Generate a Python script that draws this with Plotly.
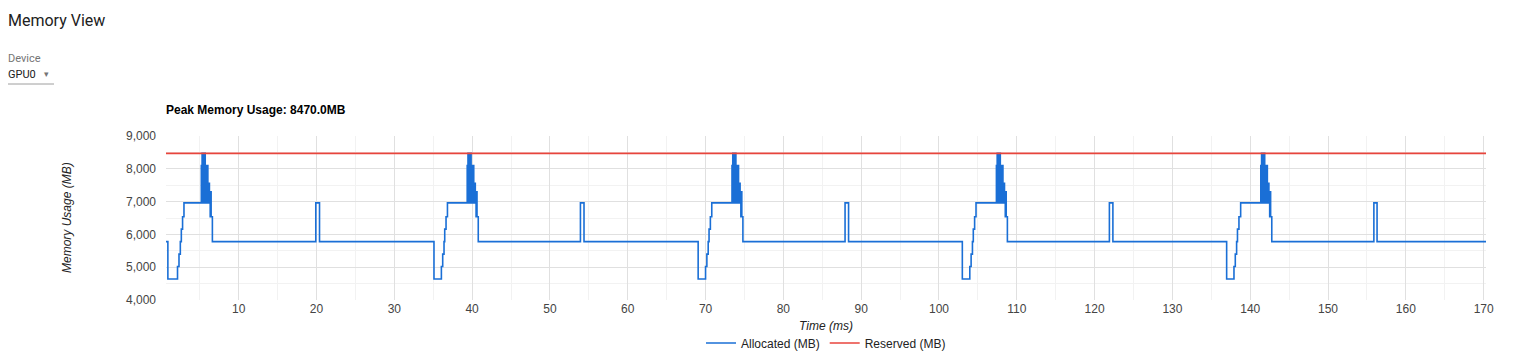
import plotly.graph_objects as go

# ---- data ----
cycle1_time = [0.66, 0.90, 2.14, 2.33, 2.50, 2.63, 2.79, 2.97,
               5.20, 5.26, 5.30, 5.34, 5.38, 5.42, 5.48, 5.52, 5.56, 5.60, 5.66, 5.70, 5.74, 5.78,
               5.83, 5.88, 5.93, 5.98, 6.04, 6.08, 6.14, 6.20, 6.24, 6.28, 6.34, 6.40, 6.46, 6.62,
               19.91, 20.39]
cycle1_mem = [5780, 4640, 5020, 5400, 5780, 6160, 6540, 6960,
              8100, 6960, 8470, 8100, 6960, 8100, 8470, 8100, 6960, 8100, 8470, 8100, 6960, 8100,
              6960, 8100, 6960, 8100, 6960, 7560, 6960, 7560, 6960, 7300, 6540, 7300, 6540, 5780,
              6960, 5780]

cycle2_time = [35.10, 36.05, 36.22, 36.39, 36.48, 36.65, 36.83,
               39.37, 39.43, 39.47, 39.51, 39.55, 39.59, 39.65, 39.69, 39.73, 39.77, 39.83, 39.87, 39.91, 39.95,
               40.00, 40.05, 40.10, 40.15, 40.21, 40.25, 40.31, 40.37, 40.41, 40.45, 40.51, 40.57, 40.63, 40.79,
               53.92, 54.38]
cycle2_mem = [4640, 5020, 5400, 5780, 6160, 6540, 6960,
              8100, 6960, 8470, 8100, 6960, 8100, 8470, 8100, 6960, 8100, 8470, 8100, 6960, 8100,
              6960, 8100, 6960, 8100, 6960, 7560, 6960, 7560, 6960, 7300, 6540, 7300, 6540, 5780,
              6960, 5780]

cycle3_time = [69.05, 70.00, 70.17, 70.34, 70.45, 70.62, 70.80,
               73.40, 73.46, 73.50, 73.54, 73.58, 73.62, 73.68, 73.72, 73.76, 73.80, 73.86, 73.90, 73.94, 73.98,
               74.03, 74.08, 74.13, 74.18, 74.24, 74.28, 74.34, 74.40, 74.44, 74.48, 74.54, 74.60, 74.66, 74.80,
               87.93, 88.38]
cycle3_mem = [4640, 5020, 5400, 5780, 6160, 6540, 6960,
              8100, 6960, 8470, 8100, 6960, 8100, 8470, 8100, 6960, 8100, 8470, 8100, 6960, 8100,
              6960, 8100, 6960, 8100, 6960, 7560, 6960, 7560, 6960, 7300, 6540, 7300, 6540, 5780,
              6960, 5780]

cycle4_time = [103.00, 103.96, 104.13, 104.30, 104.41, 104.58, 104.76,
               107.38, 107.44, 107.48, 107.52, 107.56, 107.60, 107.66, 107.70, 107.74, 107.78, 107.84, 107.88,
               107.92, 107.96, 108.01, 108.06, 108.11, 108.16, 108.22, 108.26, 108.32, 108.38, 108.42, 108.46,
               108.52, 108.58, 108.64, 108.79,
               121.90, 122.35]
cycle4_mem = [4640, 5020, 5400, 5780, 6160, 6540, 6960,
              8100, 6960, 8470, 8100, 6960, 8100, 8470, 8100, 6960, 8100, 8470, 8100,
              6960, 8100, 6960, 8100, 6960, 8100, 6960, 7560, 6960, 7560, 6960, 7300,
              6540, 7300, 6540, 5780,
              6960, 5780]

cycle5_time = [136.97, 137.91, 138.08, 138.25, 138.36, 138.55, 138.77,
               141.36, 141.42, 141.46, 141.50, 141.54, 141.58, 141.64, 141.68, 141.72, 141.76, 141.82, 141.86,
               141.90, 141.94, 141.99, 142.04, 142.09, 142.14, 142.20, 142.24, 142.30, 142.36, 142.40, 142.44,
               142.50, 142.56, 142.62, 142.77,
               155.89, 156.30, 170.30]
cycle5_mem = [4640, 5020, 5400, 5780, 6160, 6540, 6960,
              8100, 6960, 8470, 8100, 6960, 8100, 8470, 8100, 6960, 8100, 8470, 8100,
              6960, 8100, 6960, 8100, 6960, 8100, 6960, 7560, 6960, 7560, 6960, 7300,
              6540, 7300, 6540, 5780,
              6960, 5780, 5780]

reserved_time = [0.66, 170.30]
reserved_mb = [8470, 8470]

y_ticks = [4000, 5000, 6000, 7000, 8000, 9000]
x_ticks = [10, 20, 30, 40, 50, 60, 70, 80, 90, 100, 110, 120, 130, 140, 150, 160, 170]

alloc_time = cycle1_time + cycle2_time + cycle3_time + cycle4_time + cycle5_time
alloc_mem = cycle1_mem + cycle2_mem + cycle3_mem + cycle4_mem + cycle5_mem

# ---- layout geometry (pixels) ----
W, H = 1532, 358
L, R, T, B = 166, 46, 136, 58
PW, PH = W - L - R, H - T - B


def px(x):
    return (x - L) / PW


def py(y):
    return (H - B - y) / PH


BLUE = "#1a6fd6"
RED = "#e8453c"
FONT = "Liberation Sans, Arial, sans-serif"

fig = go.Figure()
fig.add_trace(go.Scatter(
    x=alloc_time, y=alloc_mem, mode="lines", name="Allocated (MB)",
    line=dict(color=BLUE, width=1.6, shape="hv"),
))
fig.add_trace(go.Scatter(
    x=reserved_time, y=reserved_mb, mode="lines", name="Reserved (MB)",
    line=dict(color=RED, width=1.6),
))

fig.update_layout(
    width=W, height=H,
    margin=dict(l=L, r=R, t=T, b=B, autoexpand=False),
    paper_bgcolor="white", plot_bgcolor="white",
    font=dict(family=FONT, size=12, color="#444"),
    showlegend=True,
    legend=dict(orientation="h", x=0.5, xanchor="center", y=py(343), yanchor="middle",
                font=dict(family=FONT, size=12, color="#222"), itemwidth=30,
                bgcolor="rgba(0,0,0,0)"),
    xaxis=dict(
        range=[0.66, 170.3], tickvals=x_ticks, ticktext=[str(v) for v in x_ticks],
        showgrid=True, gridcolor="#e0e0e0", gridwidth=1,
        minor=dict(dtick=5, tick0=0, showgrid=True, gridcolor="#f2f2f2", gridwidth=1),
        zeroline=False, showline=False, ticks="",
        tickfont=dict(family=FONT, size=12, color="#444"),
        fixedrange=True, automargin=False,
    ),
    yaxis=dict(
        range=[4000, 9000], tickvals=y_ticks, ticktext=[f"{v:,}" for v in y_ticks],
        showgrid=True, gridcolor="#e0e0e0", gridwidth=1,
        minor=dict(dtick=500, tick0=0, showgrid=True, gridcolor="#f2f2f2", gridwidth=1),
        zeroline=False, showline=False, ticks="", ticklabelstandoff=9,
        tickfont=dict(family=FONT, size=12, color="#444"),
        fixedrange=True, automargin=False,
    ),
    annotations=[
        dict(text="Memory View", xref="paper", yref="paper", x=px(6), y=py(20),
             xanchor="left", yanchor="middle", showarrow=False,
             font=dict(family="Roboto, sans-serif", size=16, color="#212121")),
        dict(text="Device", xref="paper", yref="paper", x=px(6), y=py(58),
             xanchor="left", yanchor="middle", showarrow=False,
             font=dict(family="Roboto, sans-serif", size=11, color="#757575")),
        dict(text="GPU0", xref="paper", yref="paper", x=px(6), y=py(74),
             xanchor="left", yanchor="middle", showarrow=False,
             font=dict(family="Roboto, sans-serif", size=11, color="#212121")),
        dict(text="▾", xref="paper", yref="paper", x=px(46), y=py(74),
             xanchor="center", yanchor="middle", showarrow=False,
             font=dict(family="DejaVu Sans, sans-serif", size=9, color="#757575")),
        dict(text="<b>Peak Memory Usage: 8470.0MB</b>", xref="paper", yref="paper",
             x=px(164), y=py(110), xanchor="left", yanchor="middle", showarrow=False,
             font=dict(family=FONT, size=12, color="#000")),
        dict(text="<i>Memory Usage (MB)</i>", xref="paper", yref="paper",
             x=px(67), y=py(218), xanchor="center", yanchor="middle", textangle=-90,
             showarrow=False, font=dict(family=FONT, size=12, color="#222")),
        dict(text="<i>Time (ms)</i>", xref="paper", yref="paper",
             x=0.5, y=py(326), xanchor="center", yanchor="middle",
             showarrow=False, font=dict(family=FONT, size=12, color="#222")),
    ],
    shapes=[
        dict(type="line", xref="paper", yref="paper", x0=px(8), x1=px(54), y0=py(84), y1=py(84),
             line=dict(color="#9e9e9e", width=1)),
    ],
)

fig.write_html("out.html", config={"displayModeBar": False})
